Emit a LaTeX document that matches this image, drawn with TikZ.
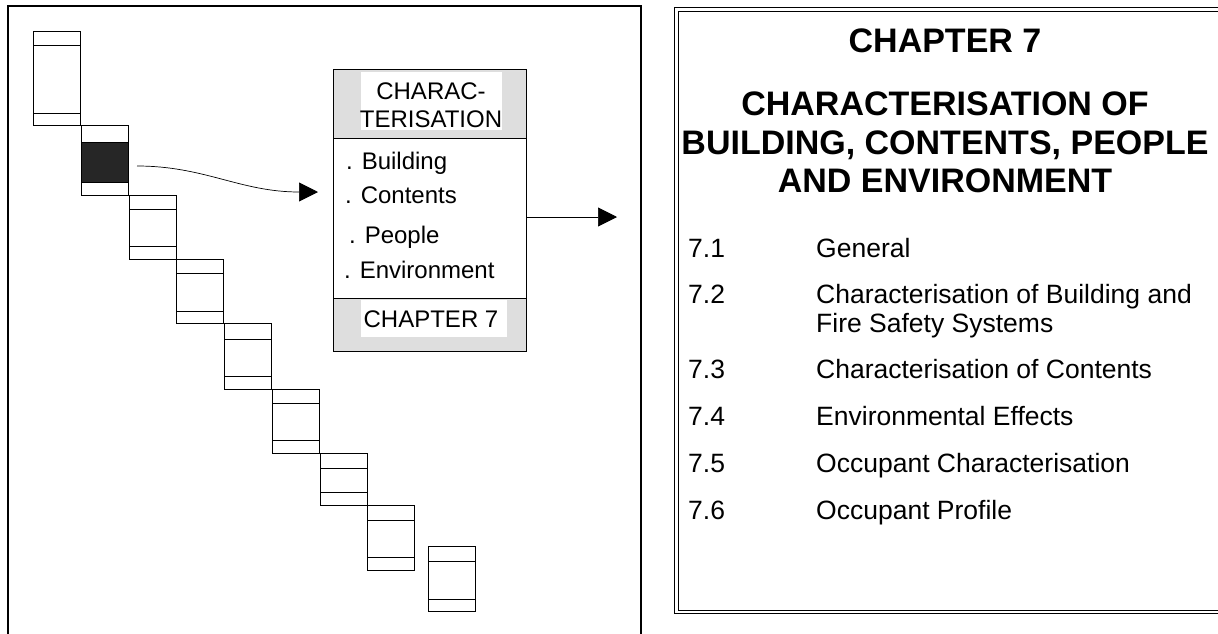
\documentclass[tikz,border=0pt]{standalone}
\usepackage{fontspec}
\setmainfont{Liberation Sans}
\usetikzlibrary{arrows.meta}
\definecolor{dotgray}{gray}{0.87}
\definecolor{dotdark}{gray}{0.15}
\tikzset{
  stairbox/.style = {draw = black, line width = 0.9pt, minimum width = 47pt, inner sep = 0pt, outer sep = 0pt},
  rule/.style = {draw = black, line width = 0.9pt},
  frame/.style = {draw = black, line width = 1.2pt},
  flow/.style = {line width = 0.7pt, -{Triangle[length = 19pt, width = 19pt]}},
  boxtext/.style = {font = \fontsize{24}{28}\selectfont, inner sep = 0pt},
  listtext/.style = {font = \fontsize{26.5}{30}\selectfont, inner sep = 0pt, anchor = base west},
  titletext/.style = {font = \fontsize{34}{39}\selectfont\bfseries, inner sep = 0pt, anchor = base}
}
\begin{document}
\begin{tikzpicture}[x = 1pt, y = -1pt]
\useasboundingbox (0,0) rectangle (1218,633);
\clip (0,0) rectangle (1218,633);
\draw[frame] (8,640) -- (8,6) -- (641,6) -- (641,640);
\draw[frame, double, double distance = 2.4pt] (1230,9.5) -- (676.5,9.5) -- (676.5,612) -- (1230,612);
\foreach \n/\x/\t/\b in {1/33/31/125, 2/81/125/195, 3/129/195/259, 4/176/259/323, 5/224/323/389, 6/272/389/453, 7/320/453/505, 8/367/505/570, 9/428/546/611}
  \node[stairbox, minimum height = {(\b-\t)*1pt}] (s\n) at ({\x+23.5},{(\t+\b)/2}) {};
\foreach \n/\u/\v in {1/45/113, 3/209/246, 4/273/311, 5/339/376, 6/403/440, 7/468/492, 8/520/557, 9/561/599}
  \draw[rule] (s\n.west |- 0,\u) -- (s\n.east |- 0,\u) (s\n.west |- 0,\v) -- (s\n.east |- 0,\v);
\filldraw[rule, fill = dotdark] (s2.west |- 0,142) rectangle (s2.east |- 0,182);
\fill[dotgray] (333,69) rectangle (526,138);
\fill[dotgray] (333,298) rectangle (526,351);
\fill[white] (361,72) rectangle (502,130);
\fill[white] (361,300) rectangle (507,337);
\node[rule, minimum width = 193pt, minimum height = 282pt, inner sep = 0pt, outer sep = 0pt] (chap) at (429.5,210) {};
\draw[rule] (chap.west |- 0,138) -- (chap.east |- 0,138) (chap.west |- 0,298) -- (chap.east |- 0,298);
\node[boxtext, anchor = base] (hd1) at (431,99) {CHARAC-};
\node[boxtext, anchor = base] (hd2) at (431,127) {TERISATION};
\node[boxtext, anchor = base west] (it1) at (346,169) {. Building};
\node[boxtext, anchor = base west] (it2) at (345,203) {. Contents};
\node[boxtext, anchor = base west] (it3) at (349,243) {. People};
\node[boxtext, anchor = base west] (it4) at (344,278) {. Environment};
\node[boxtext, anchor = base] (ft) at (431,327) {CHAPTER 7};
\coordinate (out) at (617,217);
\draw[flow] ([xshift = 9pt, yshift = -6pt]s2.east) .. controls (205,166) and (240,192) .. ([xshift = -15pt, yshift = 18pt]chap.west);
\draw[flow] ([yshift = -7pt]chap.east) -- (out);
\node[titletext] (t1) at (945,52) {CHAPTER 7};
\node[titletext] (t2) at (945,115) {CHARACTERISATION OF};
\node[titletext] (t3) at (945,154) {BUILDING, CONTENTS, PEOPLE};
\node[titletext] (t4) at (945,192) {AND ENVIRONMENT};
\foreach \n/\y/\txt in {1/257/General, 2/303/Characterisation of Building and, 3/378/Characterisation of Contents, 4/425/Environmental Effects, 5/472/Occupant Characterisation, 6/519/Occupant Profile}
  {\node[listtext] (n\n) at (688,\y) {7.\n};
   \node[listtext] (l\n) at (816,\y) {\txt};}
\node[listtext] (l2b) at (816,332) {Fire Safety Systems};
\end{tikzpicture}
\end{document}
